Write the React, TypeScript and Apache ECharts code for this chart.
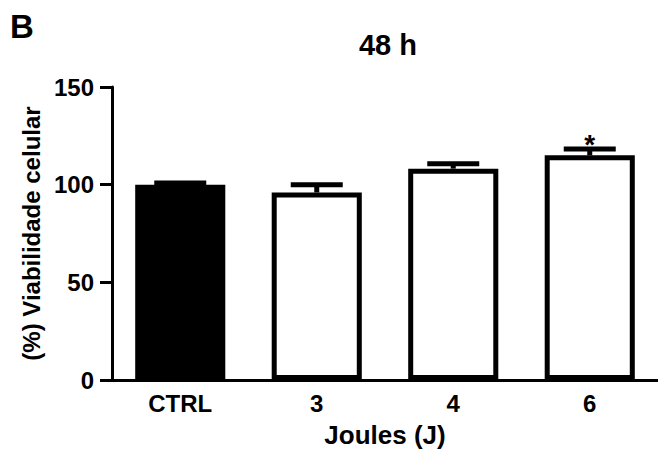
import React, { useEffect, useRef } from "react";
import * as echarts from "echarts";

const categories = ["CTRL", "3", "4", "6"];
const means = [100.0, 96.0, 108.2, 115.0];
const errors = [0.8, 3.9, 2.5, 3.3];
const sigMarks = ["", "", "", "*"];
const yTicks = { min: 0, max: 150, interval: 50 };
const barFills = ["#000000", "#ffffff", "#ffffff", "#ffffff"];

const FONT = "'Liberation Sans', Arial, sans-serif";

export default function App() {
  const ref = useRef<HTMLDivElement>(null);
  useEffect(() => {
    if (!ref.current) return;
    const chart = echarts.init(ref.current, undefined, { renderer: "svg" });
    chart.setOption({
      animation: false,
      backgroundColor: "#ffffff",
      grid: { left: 112, width: 552, top: 87, bottom: 68, containLabel: false },
      graphic: [
        {
          type: "text",
          x: 10,
          y: 26.5,
          style: {
            text: "B",
            font: `bold 33px ${FONT}`,
            fill: "#000",
            textAlign: "left",
            textVerticalAlign: "middle",
          },
        },
        {
          type: "text",
          x: 388,
          y: 45,
          style: {
            text: "48 h",
            font: `bold 29px ${FONT}`,
            fill: "#000",
            textAlign: "center",
            textVerticalAlign: "middle",
          },
        },
      ],
      xAxis: {
        type: "category",
        data: categories,
        name: "Joules (J)",
        nameLocation: "middle",
        nameGap: 42,
        nameTextStyle: {
          fontFamily: FONT,
          fontWeight: "bold",
          fontSize: 26,
          color: "#000",
          verticalAlign: "top",
        },
        axisLine: { lineStyle: { color: "#000", width: 3 } },
        axisTick: { alignWithLabel: true, length: 10, lineStyle: { color: "#000", width: 3 } },
        axisLabel: { fontFamily: FONT, fontWeight: "bold", fontSize: 24, color: "#000", margin: 11 },
      },
      yAxis: {
        type: "value",
        min: yTicks.min,
        max: yTicks.max,
        interval: yTicks.interval,
        name: "(%) Viabilidade celular",
        nameLocation: "middle",
        nameGap: 66,
        nameTextStyle: { fontFamily: FONT, fontWeight: "bold", fontSize: 24, color: "#000" },
        axisLine: { show: true, lineStyle: { color: "#000", width: 3 } },
        axisTick: { show: true, length: 12, lineStyle: { color: "#000", width: 3 } },
        axisLabel: { fontFamily: FONT, fontWeight: "bold", fontSize: 24, color: "#000", margin: 18 },
        splitLine: { show: false },
      },
      series: [
        {
          type: "bar",
          barWidth: "66%",
          data: means.map((v, i) => ({
            value: v,
            itemStyle: { color: barFills[i], borderColor: "#000", borderWidth: 5 },
          })),
          z: 2,
        },
        {
          type: "custom",
          z: 3,
          data: means.map((v, i) => [i, v, errors[i]]),
          renderItem: (params: any, api: any) => {
            const i = api.value(0);
            const v = api.value(1);
            const e = api.value(2);
            const base = api.coord([i, v]);
            const top = api.coord([i, v + e]);
            const half = 26;
            const children: any[] = [
              {
                type: "line",
                shape: { x1: base[0], y1: base[1], x2: top[0], y2: top[1] },
                style: { stroke: "#000", lineWidth: 5 },
              },
              {
                type: "line",
                shape: { x1: top[0] - half, y1: top[1], x2: top[0] + half, y2: top[1] },
                style: { stroke: "#000", lineWidth: 5 },
              },
            ];
            const mark = sigMarks[params.dataIndex];
            if (mark) {
              children.push({
                type: "text",
                x: top[0],
                y: top[1] - 4,
                style: {
                  text: mark,
                  font: `bold 28px ${FONT}`,
                  fill: "#000",
                  textAlign: "center",
                  textVerticalAlign: "middle",
                },
              });
            }
            return { type: "group", children };
          },
        },
      ],
    });
    return () => chart.dispose();
  }, []);
  return (
    <div
      ref={ref}
      style={{ position: "absolute", left: 0, top: 0, width: 658, height: 453 }}
    />
  );
}
